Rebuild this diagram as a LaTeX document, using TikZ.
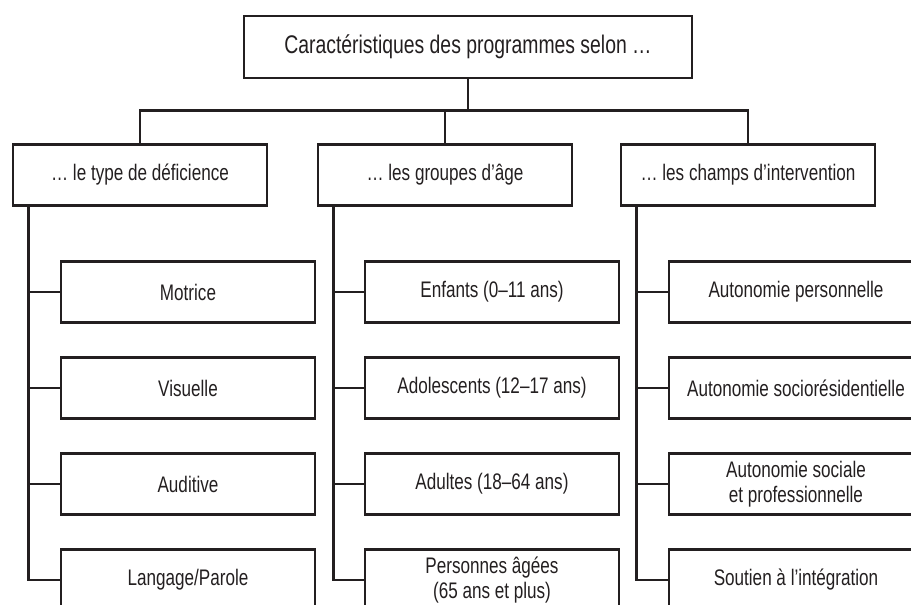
\documentclass[tikz,border=0pt]{standalone}
\usepackage{fontspec}
\setmainfont[FakeStretch=0.76]{Liberation Sans}
\definecolor{ink}{RGB}{35,31,32}

\begin{document}
\begin{tikzpicture}[x=1pt, y=-1pt,
    box/.style={draw=ink, text=ink, line width=2.6pt, minimum width=254pt,
      minimum height=61pt, align=center, inner sep=0pt,
      font=\fontsize{22.5}{25.5}\selectfont},
    link/.style={draw=ink, line width=2.6pt}]

    % Fix the frame
    \useasboundingbox (0, 0) rectangle (911, 605);
    \clip (0, 0) rectangle (911, 605);

    % Draw the top box
    \node[box, minimum width=448pt, minimum height=62pt,
      font=\fontsize{25.5}{30}\selectfont] (top) at (468, 47)
      {Caractéristiques des programmes selon …};

    % Draw the three criteria
    \node[box] (deficience) at (140, 175) {… le type de déficience};
    \node[box] (age) at (445, 175) {… les groupes d’âge};
    \node[box] (champs) at (748, 175) {… les champs d’intervention};

    % Connect the top box to the criteria
    \draw[link] (top.south) -- ++(0, 31) -| (deficience.north);
    \draw[link] (top.south) -- ++(0, 31) -| (age.north);
    \draw[link] (top.south) -- ++(0, 31) -| (champs.north);

    % Draw the types of deficiency
    \node[box] (motrice) at (188, 292) {Motrice};
    \node[box] (visuelle) at (188, 388) {Visuelle};
    \node[box] (auditive) at (188, 484) {Auditive};
    \node[box] (langage) at (188, 580) {Langage/Parole};

    % Draw the age groups
    \node[box] (enfants) at (492, 292) {Enfants (0–11 ans)};
    \node[box] (ados) at (492, 388) {Adolescents (12–17 ans)};
    \node[box] (adultes) at (492, 484) {Adultes (18–64 ans)};
    \node[box] (ages) at (492, 580) {Personnes âgées\\(65 ans et plus)};

    % Draw the fields of intervention
    \node[box] (perso) at (796, 292) {Autonomie personnelle};
    \node[box] (socio) at (796, 388) {Autonomie sociorésidentielle};
    \node[box] (social) at (796, 484) {Autonomie sociale\\et professionnelle};
    \node[box] (soutien) at (796, 580) {Soutien à l’intégration};

    % Hang the sub-boxes on their trunks
    \foreach \parent/\kid in {deficience/motrice, deficience/visuelle,
        deficience/auditive, deficience/langage, age/enfants, age/ados,
        age/adultes, age/ages, champs/perso, champs/socio, champs/social,
        champs/soutien}
      \draw[link] ([xshift=17pt]\parent.south west) |- (\kid.west);

\end{tikzpicture}
\end{document}
